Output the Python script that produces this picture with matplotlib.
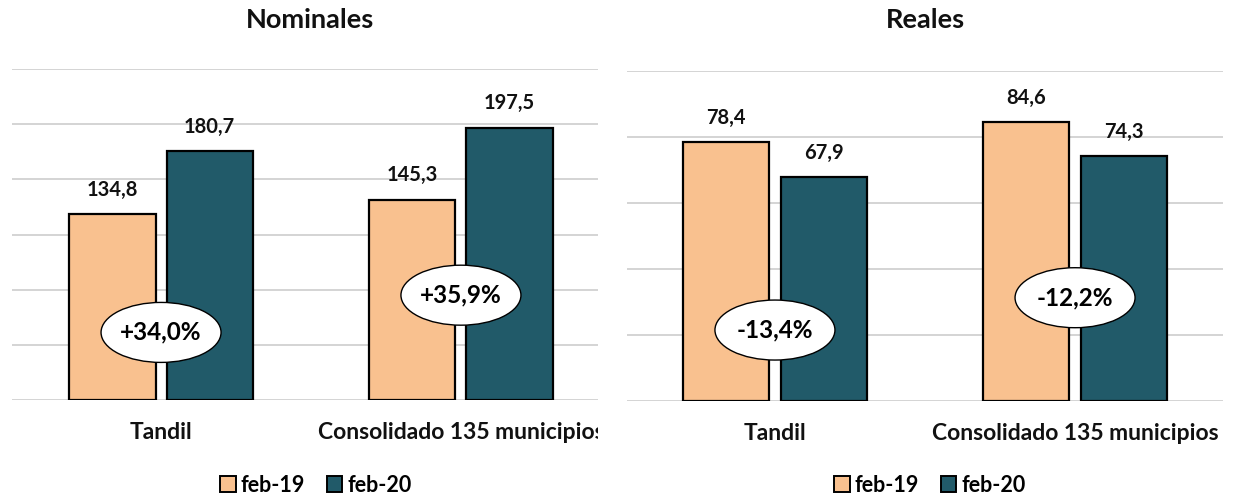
import matplotlib
matplotlib.use('Agg')
import matplotlib.pyplot as plt
from matplotlib.patches import Ellipse, Patch
from matplotlib.transforms import Bbox

# ---------------- data ----------------
categories = ['Tandil', 'Consolidado 135 municipios']
series = ['feb-19', 'feb-20']
nominal_feb19 = [134.8, 145.3]
nominal_feb20 = [180.7, 197.5]
real_feb19 = [78.4, 84.6]
real_feb20 = [67.9, 74.3]
nominal_change = ['+34,0%', '+35,9%']
real_change = ['-13,4%', '-12,2%']
titles = ['Nominales', 'Reales']

# ---------------- style ----------------
COL19 = '#F9C18F'
COL20 = '#215A69'
GRID = '#D4D4D4'
FONT = 'Lato'
W, H = 1233, 497
BAR_W = 0.287
OFF = 0.162

fig = plt.figure(figsize=(W / 100, H / 100), dpi=100)


def px_axes(x0, x1, ytop, ybot):
    return fig.add_axes([x0 / W, 1 - ybot / H, (x1 - x0) / W, (ybot - ytop) / H])


panels = [
    dict(rect=(12, 598, 69, 400), ymax=240, ystep=40, xlim=(-0.497, 1.457),
         v19=nominal_feb19, v20=nominal_feb20, chg=nominal_change,
         ell_y=[49, 76], title=titles[0], clipx=598, legx=316, titlex=310),
    dict(rect=(627, 1223, 71, 401), ymax=100, ystep=20, xlim=(-0.493, 1.493),
         v19=real_feb19, v20=real_feb20, chg=real_change,
         ell_y=[21.5, 31.3], title=titles[1], clipx=W, legx=930, titlex=925),
]

for p in panels:
    x0, x1, yt, yb = p['rect']
    ax = px_axes(x0, x1, yt, yb)
    ax.set_xlim(*p['xlim'])
    ax.set_ylim(0, p['ymax'])
    for s in ax.spines.values():
        s.set_visible(False)
    ax.set_yticks(range(0, p['ymax'] + 1, p['ystep']))
    ax.set_yticklabels([])
    ax.tick_params(axis='y', length=0)
    ax.yaxis.grid(True, color=GRID, linewidth=1.4, zorder=0)
    ax.set_axisbelow(True)

    xs = list(range(len(categories)))
    b1 = ax.bar([x - OFF for x in xs], p['v19'], width=BAR_W, color=COL19,
                edgecolor='black', linewidth=1.6, zorder=2)
    b2 = ax.bar([x + OFF for x in xs], p['v20'], width=BAR_W, color=COL20,
                edgecolor='black', linewidth=1.6, zorder=2)
    for bars, vals in ((b1, p['v19']), (b2, p['v20'])):
        for rect, v in zip(bars, vals):
            ax.annotate(f"{v:.1f}".replace('.', ','),
                        (rect.get_x() + rect.get_width() / 2, v),
                        xytext=(0, 17.5), textcoords='offset points',
                        ha='center', va='center', fontsize=14.5,
                        fontweight='bold', family=FONT, color='#111111',
                        annotation_clip=False)

    ax.set_xticks(xs)
    ax.set_xticklabels(categories, fontsize=16.5, fontweight='bold', family=FONT,
                       color='#111111')
    ax.tick_params(axis='x', length=0, pad=16)
    clip = Bbox.from_extents(0, 0, p['clipx'], H)
    for lbl in ax.get_xticklabels():
        lbl.set_clip_on(True)
        lbl.set_clip_box(clip)

    # ellipse callouts
    aw = (x1 - x0)
    ah = (yb - yt)
    for x, ey, txt in zip(xs, p['ell_y'], p['chg']):
        cx, cy = ax.transLimits.transform((x, ey))
        e = Ellipse((cx, cy), 120 / aw, 60 / ah, transform=ax.transAxes,
                    facecolor='white', edgecolor='black', linewidth=1.0,
                    zorder=5, clip_on=False)
        ax.add_patch(e)
        ax.text(cx, cy, txt, transform=ax.transAxes, ha='center', va='center',
                fontsize=17.5, fontweight='bold', family=FONT, zorder=6,
                color='black')

    fig.text(p['titlex'] / W, 1 - 20 / H, p['title'], ha='center', va='center',
             fontsize=19.5, fontweight='bold', family=FONT, color='#111111')

    handles = [Patch(facecolor=COL19, edgecolor='black', linewidth=1.4),
               Patch(facecolor=COL20, edgecolor='black', linewidth=1.4)]
    fig.legend(handles, series, loc='center', bbox_to_anchor=(p['legx'] / W, 1 - 485 / H),
               ncol=2, frameon=False, handlelength=0.72, handleheight=0.72,
               handletextpad=0.25, columnspacing=1.0,
               prop=dict(family=FONT, weight='bold', size=15.5))

fig.savefig('out.png', dpi=100)
